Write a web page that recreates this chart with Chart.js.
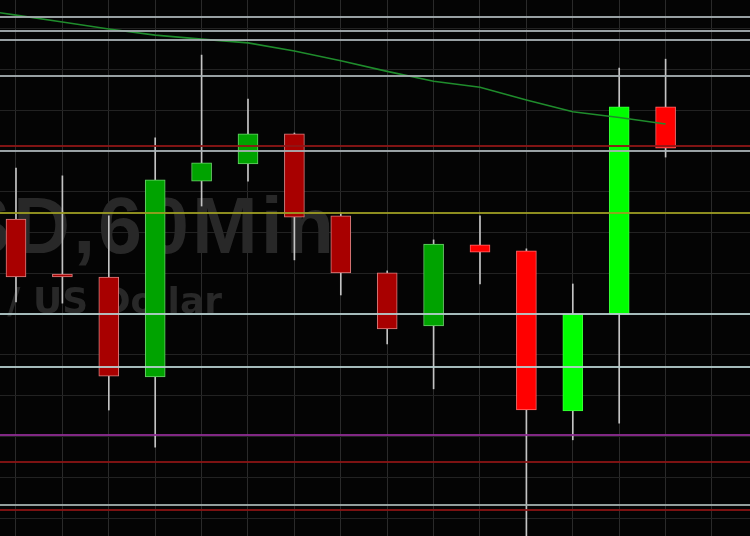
<!DOCTYPE html>
<html>
<head>
<meta charset="utf-8">
<script src="https://cdn.jsdelivr.net/npm/chart.js@4/dist/chart.umd.min.js"></script>
<style>
  html, body { margin: 0; padding: 0; background: #040404; }
  #chart { display: block; }
</style>
</head>
<body>
<canvas id="chart" width="750" height="536"></canvas>
<script>
// AUD/USD 60 min candles
const hours = ['08:00', '09:00', '10:00', '11:00', '12:00', '13:00', '14:00', '15:00',
               '16:00', '17:00', '18:00', '19:00', '20:00', '21:00', '22:00'];
const opens  = [0.72133, 0.71998, 0.71991, 0.71746, 0.72226, 0.72268, 0.72342, 0.72141,
                0.72001, 0.71871, 0.72070, 0.72055, 0.71663, 0.71900, 0.72408];
const closes = [0.71991, 0.71991, 0.71748, 0.72229, 0.72271, 0.72342, 0.72138, 0.72001,
                0.71864, 0.72072, 0.72052, 0.71665, 0.71900, 0.72408, 0.72307];
const highs  = [0.72258, 0.72239, 0.72141, 0.72332, 0.72535, 0.72427, 0.72344, 0.72148,
                0.72006, 0.72082, 0.72141, 0.72060, 0.71974, 0.72503, 0.72525];
const lows   = [0.71930, 0.71927, 0.71665, 0.71574, 0.72165, 0.72226, 0.72033, 0.71947,
                0.71827, 0.71717, 0.71974, 0.71334, 0.71592, 0.71633, 0.72285];

// moving average, first value belongs to the candle before the visible ones
const maValues = [0.72650, 0.72633, 0.72616, 0.72599, 0.72584, 0.72574, 0.72565, 0.72545,
                  0.72521, 0.72495, 0.72471, 0.72456, 0.72425, 0.72396, 0.72382, 0.72366];

// horizontal price levels
const levelValues = [0.72628, 0.72594, 0.72572, 0.72484, 0.72312, 0.72300, 0.72148,
                     0.71900, 0.71771, 0.71604, 0.71538, 0.71432, 0.71420];
const levelColors = ['#a9b1b5', '#a9b1b5', '#a9b1b5', '#a9b1b5', '#8e1616', '#a9b1b5', '#9c9c22',
                     '#b6cece', '#b6cece', '#8f2c92', '#8a1414', '#a4b0ae', '#8a1414'];

// price grid
const yTicks = [0.7260, 0.7250, 0.7240, 0.7230, 0.7220, 0.7210, 0.7200, 0.7190,
                0.7180, 0.7170, 0.7160, 0.7150, 0.7140];
const xTicks = [0, 1, 2, 3, 4, 5, 6, 7, 8, 9, 10, 11, 12, 13, 14, 15];

const symbolText = 'AUD/USD,60Min';
const nameText = 'Australian Dollar / US Dollar';

const idx = hours.map((h, i) => i);
const bodyFill = idx.map(i => {
  const up = closes[i] >= opens[i];
  if (i >= 10) return up ? '#00ff00' : '#ff0000';
  return up ? '#00a300' : '#a80000';
});
const bodyEdge = idx.map(i => {
  const up = closes[i] >= opens[i];
  if (i >= 10) return up ? '#3cff3c' : '#ff6a6a';
  return up ? '#6ccf6c' : '#d88080';
});

const background = {
  id: 'background',
  beforeDraw(chart) {
    const ctx = chart.ctx;
    ctx.save();
    ctx.fillStyle = '#040404';
    ctx.fillRect(0, 0, chart.width, chart.height);
    ctx.restore();
  }
};

const watermark = {
  id: 'watermark',
  beforeDatasetsDraw(chart) {
    const ctx = chart.ctx;
    ctx.save();
    ctx.fillStyle = '#282828';
    ctx.textAlign = 'right';
    ctx.textBaseline = 'alphabetic';
    ctx.font = 'bold 79px "Liberation Sans", Arial, sans-serif';
    ctx.letterSpacing = '3px';
    ctx.fillText(symbolText, 337, 253);
    ctx.font = 'bold 36px "DejaVu Sans", sans-serif';
    ctx.letterSpacing = '0px';
    ctx.fillText(nameText, 222, 313);
    ctx.restore();
  }
};

const levels = {
  id: 'levels',
  afterDatasetsDraw(chart) {
    const ctx = chart.ctx;
    const area = chart.chartArea;
    const y = chart.scales.y;
    ctx.save();
    ctx.globalAlpha = 0.9;
    ctx.lineWidth = 2;
    levelValues.forEach((v, i) => {
      const py = Math.round(y.getPixelForValue(v));
      ctx.strokeStyle = levelColors[i];
      ctx.beginPath();
      ctx.moveTo(area.left, py);
      ctx.lineTo(area.right, py);
      ctx.stroke();
    });
    ctx.restore();
  }
};

new Chart(document.getElementById('chart'), {
  type: 'bar',
  data: {
    datasets: [
      {
        type: 'line',
        label: 'MA',
        data: maValues.map((v, i) => ({x: i - 1, y: v})),
        borderColor: '#1f8c2c',
        borderWidth: 1.6,
        pointRadius: 0,
        tension: 0,
        order: -1
      },
      {
        label: 'Body',
        data: idx.map(i => ({x: i, y: [opens[i], closes[i]]})),
        backgroundColor: bodyFill,
        borderColor: bodyEdge,
        borderWidth: 1,
        borderSkipped: false,
        barThickness: 20,
        grouped: false,
        order: 0
      },
      {
        label: 'Wick',
        data: idx.map(i => ({x: i, y: [lows[i], highs[i]]})),
        backgroundColor: '#c4c4c4',
        borderWidth: 0,
        barThickness: 1,
        grouped: false,
        order: 1
      }
    ]
  },
  options: {
    responsive: false,
    animation: false,
    layout: { padding: 0 },
    plugins: {
      legend: { display: false },
      tooltip: { enabled: false }
    },
    scales: {
      x: {
        type: 'linear',
        offset: false,
        min: -0.3448,
        max: 15.819,
        afterBuildTicks: s => { s.ticks = xTicks.map(v => ({value: v})); },
        ticks: { display: false },
        grid: { color: '#2a2a2a', lineWidth: 1, drawTicks: false, offset: false },
        border: { display: false }
      },
      y: {
        min: 0.7135627,
        max: 0.72670,
        afterBuildTicks: s => { s.ticks = yTicks.map(v => ({value: v})); },
        ticks: { display: false },
        grid: { color: '#222222', lineWidth: 1, drawTicks: false },
        border: { display: false }
      }
    }
  },
  plugins: [background, watermark, levels]
});
</script>
</body>
</html>
